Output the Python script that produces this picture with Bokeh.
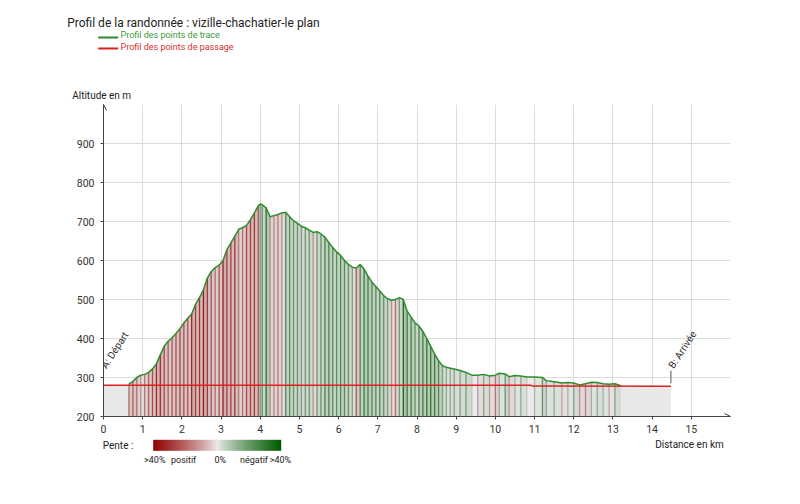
import math
from bokeh.plotting import figure
from bokeh.models import (Range1d, FixedTicker, Label, Arrow, OpenHead, AllLabels,
                          ColorBar, LinearColorMapper)
from bokeh.embed import file_html
from bokeh.resources import INLINE

# ---------------- data ----------------
title_text = "Profil de la randonnée : vizille-chachatier-le plan"
legend_labels = ["Profil des points de trace", "Profil des points de passage"]
y_axis_title = "Altitude en m"
x_axis_title = "Distance en km"
start_label = "A: Départ"
end_label = "B: Arrivée"
slope_title = "Pente :"
slope_tick_labels = [">40%", "positif", "0%", "négatif", ">40%"]
slope_tick_values = [-39, -21, 2, 23, 39.5]

x_ticks = list(range(0, 16))
y_ticks = list(range(200, 1000, 100))

trace_km = [0.65, 0.75, 0.85, 0.95, 1.05, 1.15, 1.25, 1.35, 1.45, 1.55,
            1.65, 1.75, 1.85, 1.95, 2.05, 2.15, 2.25, 2.35, 2.45, 2.55,
            2.65, 2.75, 2.85, 2.95, 3.05, 3.15, 3.25, 3.35, 3.45, 3.55,
            3.65, 3.75, 3.85, 3.95, 4.00, 4.05, 4.15, 4.25, 4.35, 4.45,
            4.55, 4.65, 4.75, 4.85, 4.95, 5.05, 5.15, 5.25, 5.35, 5.45,
            5.55, 5.65, 5.75, 5.85, 5.95, 6.05, 6.15, 6.25, 6.35, 6.45,
            6.55, 6.65, 6.75, 6.85, 6.95, 7.05, 7.15, 7.25, 7.35, 7.45,
            7.55, 7.65, 7.75, 7.85, 7.95, 8.05, 8.15, 8.25, 8.35, 8.45,
            8.55, 8.65, 8.75, 8.85, 8.95, 9.10, 9.25, 9.40, 9.55, 9.70,
            9.85, 10.00, 10.10, 10.25, 10.35, 10.50, 10.65, 10.80, 11.00, 11.20,
            11.30, 11.50, 11.70, 11.85, 12.00, 12.15, 12.30, 12.45, 12.60, 12.75,
            12.90, 13.05, 13.20]
trace_alt = [283, 290, 300, 306, 308, 313, 322, 335, 358, 380,
             393, 402, 413, 425, 440, 452, 463, 488, 505, 525,
             555, 572, 582, 588, 600, 628, 645, 662, 680, 684,
             690, 705, 722, 740, 745, 743, 735, 712, 715, 718,
             722, 724, 712, 702, 695, 688, 684, 678, 672, 674,
             668, 660, 646, 633, 622, 613, 600, 590, 583, 580,
             590, 578, 560, 545, 533, 522, 510, 502, 498, 500,
             505, 500, 470, 455, 440, 432, 418, 400, 380, 360,
             343, 330, 326, 324, 322, 318, 313, 306, 306, 308,
             304, 306, 311, 309, 302, 305, 304, 301, 301, 300,
             292, 289, 286, 287, 286, 281, 284, 288, 287, 284,
             283, 284, 279]

passage_km = [0.0, 10.9, 10.95, 14.48]
passage_alt = [280, 280, 278, 277.5]

# ---------------- colours ----------------
NEUTRAL_FILL = (234, 234, 234)
NEUTRAL_LINE = (195, 195, 195)
RED = (145, 0, 0)
GREEN = (0, 90, 0)
TRACE_COLOR = "#2e8b2e"
PASSAGE_COLOR = "#dd2222"


def mix(c1, c2, f):
    return "#%02x%02x%02x" % tuple(int(round(a + (b - a) * f)) for a, b in zip(c1, c2))


def slope_t(s):
    return max(-1.0, min(1.0, s / 40.0))


# ---------------- figure ----------------
X0, X1 = 0, 16
Y0, Y1 = 200, 1000
p = figure(width=790, height=472, output_backend="svg", toolbar_location=None,
           x_range=Range1d(X0, X1), y_range=Range1d(Y0, Y1),
           min_border_left=103, min_border_right=60, min_border_top=104, min_border_bottom=56)
p.outline_line_color = None
p.background_fill_color = "white"
p.border_fill_color = "white"

for ax, ticks in ((p.xaxis, x_ticks), (p.yaxis, y_ticks)):
    ax.ticker = FixedTicker(ticks=ticks)
    ax.axis_line_color = "#444444"
    ax.major_tick_line_color = "#444444"
    ax.major_tick_out = 3
    ax.major_tick_in = 0
    ax.minor_tick_out = 0
    ax.minor_tick_in = 0
    ax.major_label_text_font = "Roboto"
    ax.major_label_text_font_size = "10.5px"
    ax.major_label_text_color = "#333333"
p.xaxis.major_label_standoff = 5
p.yaxis.major_label_standoff = 6
p.xgrid.ticker = FixedTicker(ticks=x_ticks[1:])
p.ygrid.ticker = FixedTicker(ticks=y_ticks[1:])
p.grid.grid_line_color = "#dcdcdc"
p.grid.grid_line_width = 1

# grey area under the passage profile
p.varea(x=passage_km, y1=[Y0] * len(passage_km), y2=passage_alt, fill_color="#e8e8e8")

# slope-coloured strips under the trace profile
xs, ys, fills, lx, ltop, lcol = [], [], [], [], [], []
for i in range(len(trace_km) - 1):
    d0, d1 = trace_km[i], trace_km[i + 1]
    a0, a1 = trace_alt[i], trace_alt[i + 1]
    s = (a1 - a0) / ((d1 - d0) * 1000.0) * 100.0
    t = slope_t(s)
    c = RED if t > 0 else GREEN
    f = min(1.0, abs(t) ** 0.45)
    xs.append([d0, d0, d1, d1])
    ys.append([Y0, a0, a1, Y0])
    fills.append(mix(NEUTRAL_FILL, c, 0.3 * f))
    lx.append(d0)
    ltop.append(a0)
    lcol.append(mix(NEUTRAL_LINE, c, f))

p.patches(xs=xs, ys=ys, fill_color=fills, line_color=None)
p.segment(x0=lx, y0=[Y0] * len(lx), x1=lx, y1=ltop, line_color=lcol, line_width=1.3)

# profile lines
p.line(trace_km, trace_alt, line_color=TRACE_COLOR, line_width=1.5)
p.line(passage_km, passage_alt, line_color=PASSAGE_COLOR, line_width=1.5)

# start / end markers
p.segment(x0=[passage_km[-1]], y0=[285], x1=[passage_km[-1]], y1=[318],
          line_color="#555555", line_width=1)
ang = math.radians(57)
for xv, txt in ((passage_km[0], start_label), (passage_km[-1], end_label)):
    p.add_layout(Label(x=xv, y=326, text=txt, angle=ang,
                       text_font="Roboto", text_font_size="10px", text_color="#333333",
                       text_baseline="alphabetic", text_align="left"))

# axis arrows
for xe, ye in ((X0, Y1), (X1, Y0)):
    p.add_layout(Arrow(end=OpenHead(size=6, line_color="#444444", line_width=1),
                       x_start=X0, y_start=Y0, x_end=xe, y_end=ye,
                       line_color="#444444", line_width=1))


# ---------------- boxes placed around the frame (offsets from frame bottom-left, px) ----------------
def box(x, y, w, h, colors, title=None, size="10px", color="#222222"):
    cb = ColorBar(color_mapper=LinearColorMapper(palette=colors, low=0, high=1),
                  orientation="horizontal", location=(x, y), width=w, height=h,
                  padding=0, margin=0, ticker=FixedTicker(ticks=[]),
                  major_tick_line_color=None, minor_tick_line_color=None,
                  major_label_text_alpha=0, bar_line_color=None,
                  background_fill_alpha=0, border_line_color=None,
                  scale_alpha=1.0 if title is None else 0.0)
    if title is not None:
        cb.title = title
        cb.title_text_font = "Roboto"
        cb.title_text_font_size = size
        cb.title_text_font_style = "normal"
        cb.title_text_color = color
        cb.title_standoff = 0
    p.add_layout(cb, "center")


box(-36.3, 385.8, 1, 1, ["#ffffff"], title_text, "12px")
box(-5.3, 378, 20, 2, [TRACE_COLOR])
box(-5.3, 367, 20, 2, [PASSAGE_COLOR])
box(17, 375.3, 1, 1, ["#ffffff"], legend_labels[0], "9px", "#3a9a3a")
box(17, 363.5, 1, 1, ["#ffffff"], legend_labels[1], "9px", "#d63030")
box(-31.3, 314.3, 1, 1, ["#ffffff"], y_axis_title, "10px")
box(-0.7, -35.2, 1, 1, ["#ffffff"], slope_title, "10px")
box(551.7, -34.8, 1, 1, ["#ffffff"], x_axis_title, "10px")

# slope colour bar
n = 128
grad = []
for k in range(n):
    v = 40 - 80.0 * (k + 0.5) / n
    t = slope_t(v)
    c = RED if t > 0 else GREEN
    grad.append(mix((238, 238, 238), c, abs(t) ** 0.8))
mapper = LinearColorMapper(palette=grad, low=-40, high=40)
cb = ColorBar(color_mapper=mapper, orientation="horizontal", location=(49.7, -51.3),
              width=128, height=11, padding=0, margin=0,
              ticker=FixedTicker(ticks=slope_tick_values),
              major_label_overrides={v: s for v, s in zip(slope_tick_values, slope_tick_labels)},
              major_label_policy=AllLabels(),
              major_tick_line_color=None, minor_tick_line_color=None, bar_line_color=None,
              major_label_text_font="Roboto", major_label_text_font_size="9px",
              major_label_text_color="#222222", label_standoff=4,
              background_fill_alpha=0, border_line_color=None)
p.add_layout(cb, "center")

open("out.html", "w").write(file_html(p, INLINE))
